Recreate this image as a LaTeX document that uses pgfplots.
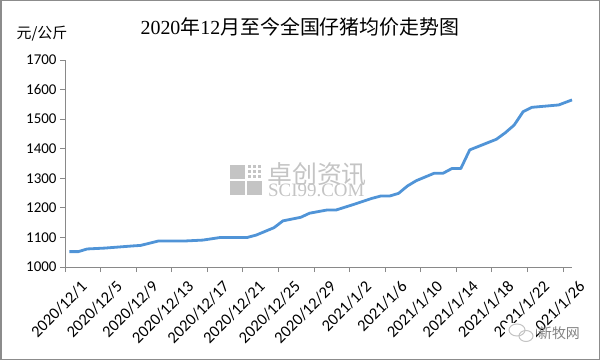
\documentclass[border=0pt]{standalone}
\usepackage{pgfplots}
\pgfplotsset{compat=1.18}
\usepackage{fontspec}
\setmainfont{Liberation Serif}
\newfontfamily\cjk{Noto Sans CJK SC}
\newfontfamily\carlito{Carlito}
\definecolor{lineblue}{RGB}{80,148,215}
\definecolor{axgray}{RGB}{137,137,137}
\definecolor{wm}{RGB}{196,196,196}
\definecolor{frame}{RGB}{140,140,140}
\begin{document}
\begin{tikzpicture}
\path[use as bounding box] (0,0) rectangle (600bp,360bp);
\draw[line width=1.5bp, frame] (0.75bp,0.75bp) rectangle (599.25bp,359.25bp);
% title and unit
\node at (300bp,333bp) {\fontsize{20}{20}\selectfont 2020{\cjk 年}12{\cjk 月至今全国仔猪均价走势图}};
\node at (42bp,326bp) {\cjk\fontsize{15}{15}\selectfont 元/公斤};
% watermark
\fill[wm] (230bp,181bp) rectangle (245bp,195bp);
\fill[wm] (230bp,165bp) rectangle (245bp,179bp);
\fill[wm] (247bp,165bp) rectangle (262bp,179bp);
\foreach \i in {0,1,2}{\foreach \j in {0,1,2}{\fill[wm] (248bp+5*\i bp,182bp+5*\j bp) rectangle (251bp+5*\i bp,185bp+5*\j bp);}}
\node[wm, anchor=west, inner sep=0] at (267bp,186bp) {\cjk\fontsize{25}{25}\selectfont 卓创资讯};
\node[wm, anchor=west, inner sep=0] at (268bp,170bp) {\fontsize{19}{19}\selectfont SCI99.COM};
\begin{axis}[at={(65bp,93bp)}, anchor=south west, scale only axis,
  width=507bp, height=207bp,
  xmin=-0.5, xmax=56.5, ymin=1000, ymax=1700,
  ytick={1000,1100,...,1700},
  xtick={-0.5,3.5,...,55.5},
  xticklabels={2020/12/1,2020/12/5,2020/12/9,2020/12/13,2020/12/17,2020/12/21,2020/12/25,2020/12/29,2021/1/2,2021/1/6,2021/1/10,2021/1/14,2021/1/18,2021/1/22,2021/1/26},
  axis x line*=bottom, axis y line*=left,
  axis line style={axgray, line width=1bp, -},
  tick style={axgray, line width=1bp}, tick align=outside, major tick length=5bp,
  yticklabel style={font=\carlito\fontsize{15}{15}\selectfont, text=black},
  xticklabel style={font=\carlito\fontsize{16.5}{16.5}\selectfont, text=black, rotate=45, anchor=east, inner sep=0pt, xshift=5bp, yshift=-22bp},
  scaled y ticks=false,
  /pgf/number format/set thousands separator={},
  /pgf/number format/assume math mode=true,
  clip=false]
\addplot[lineblue, line width=2.8bp, line join=round] coordinates {
(0,1052)(1,1052)(2,1061)(4,1064)(7,1071)(8,1073)(10,1088)(13,1088)(15,1091)
(17,1100)(20,1100)(21,1108)(23,1133)(24,1156)(26,1168)(27,1182)(29,1193)(30,1193)
(32,1212)(34,1232)(35,1240)(36,1240)(37,1249)(38,1274)(39,1292)(41,1317)(42,1317)
(43,1333)(44,1333)(45,1396)(48,1432)(49,1454)(50,1480)(51,1525)(52,1540)(55,1548)(56.5,1565)
};
\end{axis}
% 新牧网 logo and name (drawn over the last label, as in the reference)
\fill[white] (505bp,17bp) rectangle (536bp,37bp);
\draw[wm, line width=1bp] (517bp,30bp) ellipse (8bp and 6bp);
\draw[wm, line width=1bp] (526bp,24bp) ellipse (7bp and 5.5bp);
\node[color={rgb,255:red,130;green,130;blue,130}] at (559bp,27bp) {\cjk\fontsize{14}{14}\selectfont 新牧网};
\end{tikzpicture}
\end{document}
